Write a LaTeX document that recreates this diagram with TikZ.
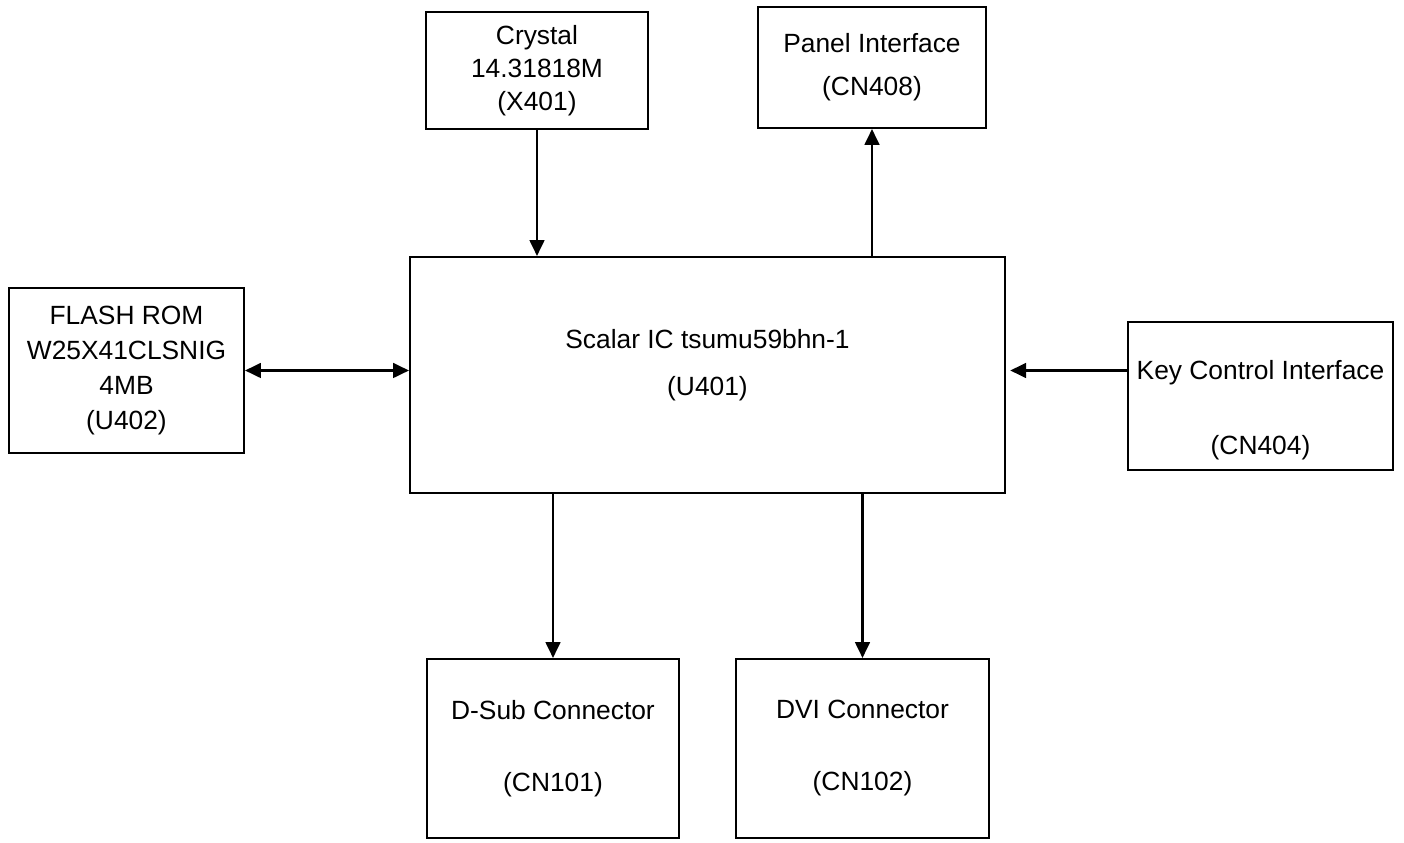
\documentclass[tikz,border=0pt]{standalone}
\usepackage{fontspec}
\setmainfont{Liberation Sans}
\usetikzlibrary{arrows.meta,positioning,calc}

\begin{document}
\begin{tikzpicture}[x=0.1mm,y=-0.1mm,
    font=\fontsize{7.5}{9.4}\selectfont,
    >={Triangle[length=4.5pt,width=4.2pt]},
    blk/.style={draw,line width=0.6pt,inner sep=0pt,align=center},
    wire/.style={line width=0.6pt}]
    \useasboundingbox (0,0) rectangle (1404,843);
    \node[blk,minimum width=22.2mm,minimum height=11.7mm] (xtal) at (537,70.5){Crystal\\14.31818M\\(X401)};
    \node[blk,minimum width=22.8mm,minimum height=12.1mm] (panel) at (872,67.5){Panel Interface\\[2.8pt](CN408)};
    \node[blk,minimum width=59.5mm,minimum height=23.6mm] (scaler) at (707.5,375){Scalar IC tsumu59bhn-1\\[4pt](U401)\rule[-7.3pt]{0pt}{7.3pt}};
    \node[blk,minimum width=23.5mm,minimum height=16.5mm] (flash) at (126.5,370.5){FLASH ROM\\[0.6pt]W25X41CLSNIG\\[0.6pt]4MB\\[0.6pt](U402)};
    \node[blk,minimum width=26.5mm,minimum height=14.8mm] (key) at (1260.5,396){\rule{0pt}{13.5pt}Key Control Interface\\[12.2pt](CN404)};
    \node[blk,minimum width=25.2mm,minimum height=17.9mm] (dsub) at (553,748.5){D-Sub Connector\\[11.1pt](CN101)};
    \node[blk,minimum width=25.3mm,minimum height=17.9mm] (dvi) at (862.5,748.5){DVI Connector\\[11.1pt](CN102)};
    \draw[wire,->] (xtal) -- (xtal |- scaler.north);
    \draw[wire,->] (scaler.north -| panel) -- (panel);
    \draw[wire,<->] (flash.east) -- (flash.east -| scaler.west);
    \draw[wire,->,shorten >=1.2pt] (key.west |- flash.east) -- (scaler.east |- flash.east);
    \draw[wire,->] (scaler.south -| dsub) -- (dsub);
    \draw[wire,->] (scaler.south -| dvi) -- (dvi);
  \end{tikzpicture}
\end{document}
